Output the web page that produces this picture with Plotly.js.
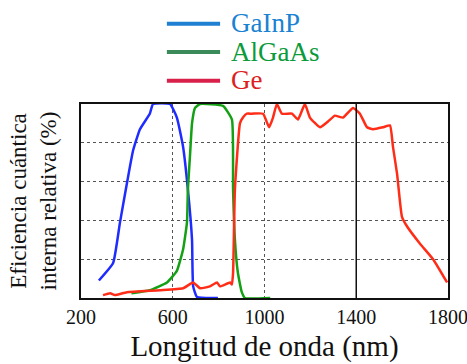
<!DOCTYPE html>
<html>
<head>
<meta charset="utf-8">
<script src="https://cdn.plot.ly/plotly-3.0.1.min.js"></script>
<style>html,body{margin:0;padding:0;background:#fff;}</style>
</head>
<body>
<div id="chart" style="width:467px;height:364px;"></div>
<script>
const seriesNames = ["GaInP", "AlGaAs", "Ge"];
const xTicks = [200, 600, 1000, 1400, 1800];

const gainpX = [278, 340, 370, 400, 427, 457, 500, 514, 588, 618, 645, 666, 684, 689, 706, 797];
const gainpY = [9, 18, 39, 59, 76, 87, 95, 100, 100, 93, 78, 56, 30, 6, 0.5, 0];

const algaasX = [420, 500, 575, 618, 645, 662, 666, 675, 684, 697, 719, 819, 858, 863, 871, 884, 901, 915, 1025];
const algaasY = [2.5, 4, 8, 14, 25, 39, 56, 73, 90, 98, 100, 99, 92, 56, 30, 13, 3, 0, 0];

const geX = [296, 327, 348, 400, 544, 645, 689, 719, 762, 793, 806, 850, 858, 863, 871, 893, 906, 923, 945, 994, 1020, 1037, 1054, 1076, 1120, 1146, 1176, 1198, 1242, 1277, 1307, 1342, 1386, 1416, 1447, 1473, 1516, 1547, 1560, 1578, 1599, 1621, 1678, 1735, 1796];
const geY = [1.5, 2.5, 1.5, 3, 4, 5, 8, 5, 6, 8, 6, 8, 7, 13, 56, 90, 93, 95, 95, 95, 88, 93, 100, 95, 95, 92, 100, 93, 88, 91, 94, 93, 98, 95, 88, 87, 88, 89, 78, 64, 42, 37, 28, 20, 8];

const curveColors = ["#1f2cff", "#13a014", "#ff2d17"];
const legendLineColors = ["#1f7fd0", "#3a8a5a", "#d8204a"];
const textColors = ["#1a82d2", "#0b9b3b", "#dd1f1f"];

const xs = [gainpX, algaasX, geX];
const ys = [gainpY, algaasY, geY];

const traces = seriesNames.map((n, i) => ({
  x: xs[i], y: ys[i], type: "scatter", mode: "lines", name: n, showlegend: false,
  line: {color: curveColors[i], width: 2.5, shape: "spline", smoothing: 0.4}
}));

// legend drawn in paper space (rows at fixed spacing)
const legendRowsY = [1.414, 1.268, 1.120];
const legendShapes = seriesNames.map((n, i) => ({
  type: "line", xref: "paper", yref: "paper", x0: 0.234, x1: 0.379,
  y0: legendRowsY[i], y1: legendRowsY[i], line: {color: legendLineColors[i], width: 4}
}));
const legendAnn = seriesNames.map((n, i) => ({
  text: n, xref: "paper", yref: "paper", x: 0.405, y: legendRowsY[i] + 0.005,
  xanchor: "left", yanchor: "middle", showarrow: false, height: 25, borderpad: 0, valign: "middle",
  font: {size: 27, color: textColors[i], family: "Liberation Serif"}
}));

const layout = {
  width: 467, height: 364,
  margin: {l: 81, r: 19, t: 104, b: 66},
  paper_bgcolor: "#fff", plot_bgcolor: "#fff",
  font: {family: "Liberation Serif", color: "#000"},
  showlegend: false,
  xaxis: {
    range: [200, 1800], tickvals: xTicks, ticktext: xTicks.map(String),
    showgrid: true, gridcolor: "#555", griddash: "dot", gridwidth: 1,
    showline: true, linecolor: "#111", linewidth: 2, mirror: true,
    ticks: "", tickfont: {size: 20, color: "#111"}, zeroline: false,
    ticklabeloverflow: "allow",
    title: {text: "Longitud de onda (nm)", font: {size: 29, color: "#111"}, standoff: 9}
  },
  yaxis: {
    range: [0, 100], tickvals: [0, 20, 40, 60, 80, 100], showticklabels: false,
    showgrid: true, gridcolor: "#555", griddash: "dot", gridwidth: 1,
    showline: true, linecolor: "#111", linewidth: 2, mirror: true,
    ticks: "", zeroline: false,
    title: {text: "Eficiencia cuántica<br>interna relativa (%)", font: {size: 23, color: "#111"}, standoff: 16}
  },
  shapes: [{type: "line", xref: "x", yref: "paper", x0: 1400, x1: 1400, y0: 0, y1: 1,
    line: {color: "#111", width: 1.5}}].concat(legendShapes),
  annotations: legendAnn
};

Plotly.newPlot("chart", traces, layout, {staticPlot: true, displayModeBar: false});
</script>
</body>
</html>
